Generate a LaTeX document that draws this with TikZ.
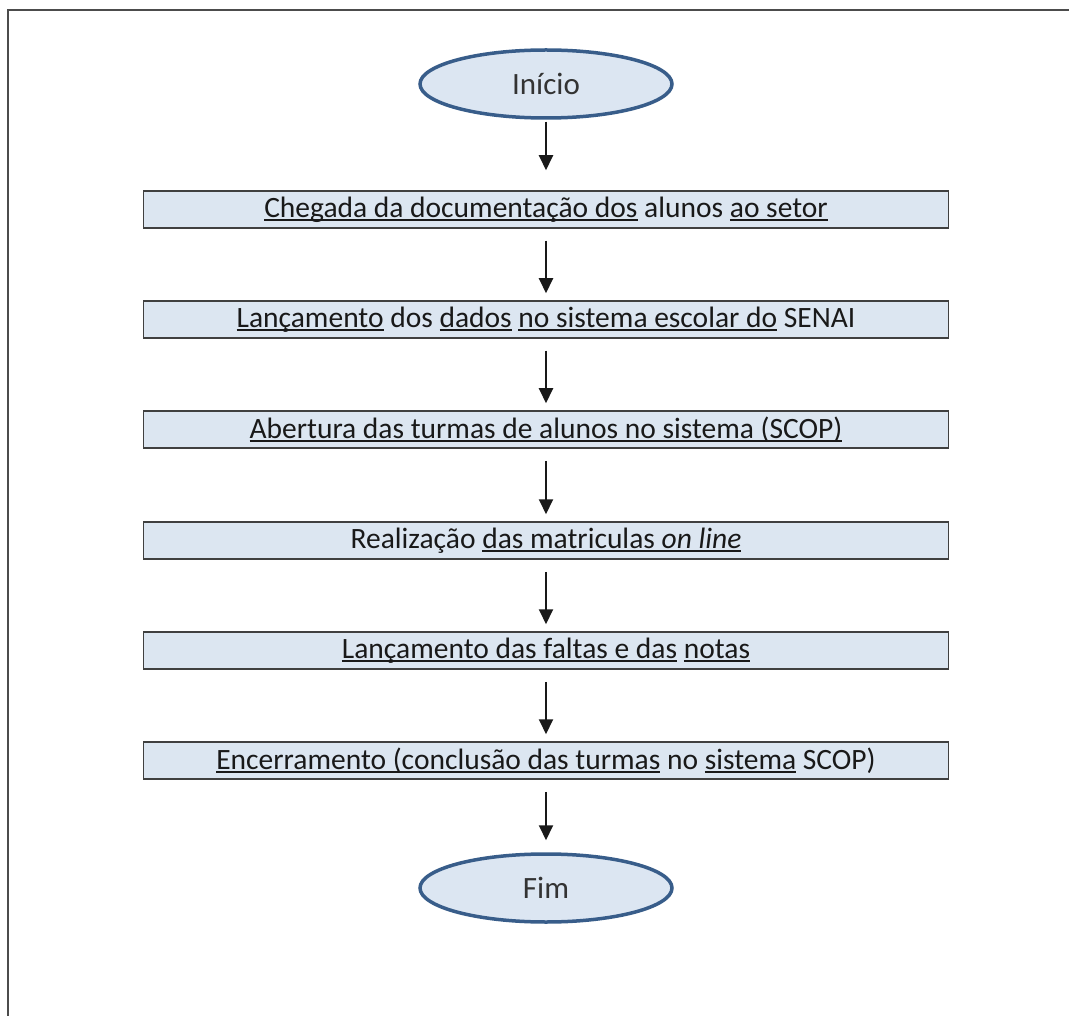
\documentclass[tikz,border=0pt]{standalone}
\usepackage{fontspec}
\setmainfont{Carlito}
\usetikzlibrary{shapes.geometric,arrows.meta}
\definecolor{boxfill}{RGB}{220,230,241}
\definecolor{ellfill}{RGB}{220,230,242}
\definecolor{elldraw}{RGB}{56,93,138}
\newsavebox{\ulwbox}
\newcommand{\ulw}[1]{\sbox{\ulwbox}{#1}\rlap{\rule[-3.6pt]{\wd\ulwbox}{2pt}}\usebox{\ulwbox}}
\tikzset{
  stepbox/.style={draw=black!75, line width=1.5pt, fill=boxfill, minimum width=805pt, minimum height=37pt, inner sep=0pt, text=black!90, font=\fontsize{29.5}{33}\selectfont},
  term/.style={ellipse, draw=elldraw, line width=3.5pt, fill=ellfill, minimum width=252pt, minimum height=68pt, inner sep=0pt, text=black!80, font=\fontsize{31}{35}\selectfont},
  flow/.style={-{Triangle[length=15pt,width=14pt]}, line width=2pt, black!90},
  frame/.style={line width=2pt, black!70},
}
\begin{document}
\begin{tikzpicture}[x=1pt,y=-1pt]
\useasboundingbox (0,0) rectangle (1069,1016);
\draw[frame] (8,1016) -- (8,10.5) -- (1069,10.5);
\node[term] (start) at (546,84) {Início};
\node[stepbox] (b1) at (546,209.5) {\ulw{Chegada da documentação dos} alunos \ulw{ao setor}};
\node[stepbox] (b2) at (546,319.5) {\ulw{Lançamento} dos \ulw{dados} \ulw{no sistema escolar do} SENAI};
\node[stepbox] (b3) at (546,429.5) {\ulw{Abertura das turmas de alunos no sistema (SCOP)}};
\node[stepbox] (b4) at (546,540.5) {Realização \ulw{das matriculas \textit{on line}}};
\node[stepbox] (b5) at (546,650.5) {\ulw{Lançamento das faltas e das} \ulw{notas}};
\node[stepbox] (b6) at (546,760.5) {\ulw{Encerramento (conclusão das turmas} no \ulw{sistema} SCOP)};
\node[term] (end) at (546,888) {Fim};
\draw[flow, shorten <=2pt, shorten >=20pt] (start) -- (b1);
\draw[flow, shorten <=12pt, shorten >=7pt] (b1) -- (b2);
\draw[flow, shorten <=12pt, shorten >=7pt] (b2) -- (b3);
\draw[flow, shorten <=12pt, shorten >=7pt] (b3) -- (b4);
\draw[flow, shorten <=12pt, shorten >=7pt] (b4) -- (b5);
\draw[flow, shorten <=12pt, shorten >=7pt] (b5) -- (b6);
\draw[flow, shorten <=12pt, shorten >=12pt] (b6) -- (end);
\end{tikzpicture}
\end{document}
